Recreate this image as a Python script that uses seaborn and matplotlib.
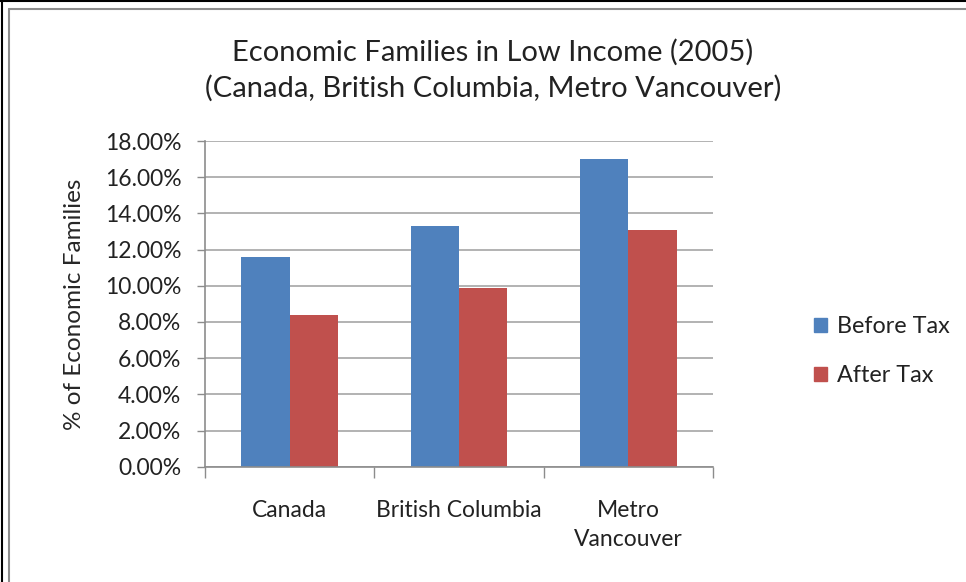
import matplotlib

matplotlib.use("Agg")

import pandas as pd
import seaborn as sns
import matplotlib.pyplot as plt
from matplotlib import ticker
from matplotlib.lines import Line2D

regions = ["Canada", "British Columbia", "Metro\nVancouver"]
before_tax = [11.6, 13.3, 17.0]
after_tax = [8.4, 9.9, 13.1]
series = ["Before Tax", "After Tax"]
colors = ["#4F81BD", "#C0504D"]
yticks = [0, 2, 4, 6, 8, 10, 12, 14, 16, 18]

df = pd.DataFrame(
    {
        "region": regions * 2,
        "value": before_tax + after_tax,
        "series": [series[0]] * 3 + [series[1]] * 3,
    }
)

sns.set_theme(style="white")
plt.rcParams["font.family"] = ["Lato", "DejaVu Sans"]
plt.rcParams["text.color"] = "#222222"

fig = plt.figure(figsize=(9.66, 5.82), dpi=100)
W, H = 966, 582
ax = fig.add_axes([205 / W, (H - 466.7) / H, (713 - 205) / W, (466.7 - 141) / H])

sns.barplot(
    data=df,
    x="region",
    y="value",
    hue="series",
    palette=colors,
    width=0.572,
    gap=0,
    saturation=1,
    ax=ax,
    legend=False,
    linewidth=0,
)

ax.set_ylim(0, 18)
ax.set_xlim(-0.5, 2.5)
ax.set_yticks(yticks)
ax.yaxis.set_major_formatter(ticker.FuncFormatter(lambda v, p: f"{v:.2f}%"))
ax.yaxis.grid(True, color="#A6A6A6", linewidth=1.2)
ax.set_axisbelow(True)

for s in ["top", "right"]:
    ax.spines[s].set_visible(False)
for s in ["left", "bottom"]:
    ax.spines[s].set_color("#8C8C8C")
    ax.spines[s].set_linewidth(1.2)

ax.tick_params(axis="y", which="major", length=6, width=1, color="#8C8C8C",
               labelsize=16.5, labelcolor="#222222", pad=11, left=True)
ax.set_xticks(range(3))
ax.set_xticklabels(regions, linespacing=1.45)
ax.tick_params(axis="x", which="major", length=0, labelsize=16.5,
               labelcolor="#222222", pad=24)

# category boundary ticks on the x axis
ax.set_xticks([-0.5, 0.5, 1.5, 2.5], minor=True)
ax.tick_params(axis="x", which="minor", length=8, width=1, color="#8C8C8C",
               bottom=True, direction="out")

ax.set_xlabel("")
ax.set_ylabel("% of Economic Families", fontsize=17.5, labelpad=14)

fig.text(493 / W, 1 - 70 / H, "Economic Families in Low Income (2005)\n"
         "(Canada, British Columbia, Metro Vancouver)",
         ha="center", va="center", fontsize=21, linespacing=1.4)

handles = [plt.Rectangle((0, 0), 1, 1, color=c) for c in colors]
fig.legend(handles, series, loc="center left",
           bbox_to_anchor=(793 / W, 1 - 351 / H), frameon=False,
           fontsize=16.8, handlelength=0.55, handleheight=0.55,
           handletextpad=0.45, labelspacing=1.2)

# outer chart frame
fig.add_artist(Line2D([0, 1], [1 - 0.5 / H, 1 - 0.5 / H], color="black", lw=1.5,
                      transform=fig.transFigure))
fig.add_artist(Line2D([1.5 / W, 1.5 / W], [0, 1], color="black", lw=1.5,
                      transform=fig.transFigure))
fig.add_artist(Line2D([8.5 / W, 1], [1 - 9 / H, 1 - 9 / H], color="#8C8C8C", lw=1.5,
                      transform=fig.transFigure))
fig.add_artist(Line2D([8.5 / W, 8.5 / W], [0, 1 - 9 / H], color="#8C8C8C", lw=1.5,
                      transform=fig.transFigure))

fig.savefig("out.png", dpi=100)
